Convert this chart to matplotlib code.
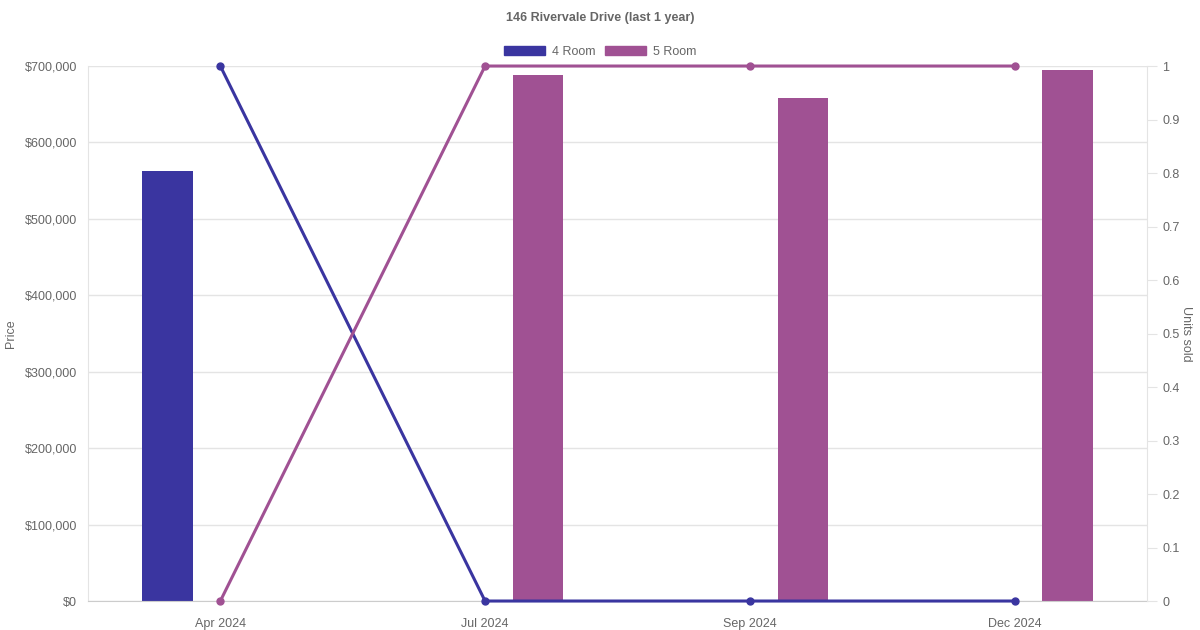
import matplotlib.pyplot as plt
import matplotlib.ticker as mticker
from matplotlib.patches import Patch
import numpy as np

months = ["Apr 2024", "Jul 2024", "Sep 2024", "Dec 2024"]
price_4room = [562000, np.nan, np.nan, np.nan]
price_5room = [np.nan, 688000, 658000, 695000]
units_4room = [1, 0, 0, 0]
units_5room = [0, 1, 1, 1]

c4 = "#3a35a0"
c5 = "#a05193"
grey = "#666666"
gridc = "#e4e4e4"

plt.rcParams['font.family'] = ['Liberation Sans', 'DejaVu Sans']

fig = plt.figure(figsize=(12, 6.3), dpi=100)
ax = fig.add_axes([0.0733, 0.046, 0.8825, 0.8492])
x = np.arange(len(months))
w = 0.19
ax.bar(x - 0.2, price_4room, w, color=c4, zorder=2)
ax.bar(x + 0.2, price_5room, w, color=c5, zorder=2)
ax.set_xlim(-0.5, len(months) - 0.5)
ax.set_ylim(0, 700000)
ax.yaxis.set_major_locator(mticker.MultipleLocator(100000))
ax.yaxis.set_major_formatter(mticker.FuncFormatter(lambda v, p: "${:,.0f}".format(v)))
ax.set_xticks(x)
ax.set_xticklabels(months)
ax.grid(axis='y', color=gridc, lw=1, zorder=0)
ax.tick_params(axis='both', labelcolor=grey, labelsize=9, length=0, pad=8)
ax.tick_params(axis='x', pad=12)
for s in ['top', 'right']:
    ax.spines[s].set_visible(False)
ax.spines['left'].set_color(gridc)
ax.spines['bottom'].set_color("#cccccc")
ax.set_ylabel("Price", color=grey, fontsize=9, va='center')
ax.yaxis.set_label_coords(-0.0727, 0.5)

ax2 = ax.twinx()
ax2.plot(x, units_4room, color=c4, lw=2.2, marker='o', ms=5, zorder=3)
ax2.plot(x, units_5room, color=c5, lw=2.2, marker='o', ms=5, zorder=3)
ax2.set_ylim(0, 1)
ax2.yaxis.set_major_locator(mticker.MultipleLocator(0.1))
ax2.yaxis.set_major_formatter(mticker.FuncFormatter(lambda v, p: "{:g}".format(round(v, 1))))
ax2.tick_params(axis='y', labelcolor=grey, color=gridc, labelsize=9, length=7, pad=4)
for s in ['top', 'left', 'bottom']:
    ax2.spines[s].set_visible(False)
ax2.spines['right'].set_color(gridc)
ax2.set_ylabel("Units sold", color=grey, fontsize=9, rotation=-90, va='center')
ax2.yaxis.set_label_coords(1.0368, 0.5)
for line in ax2.lines:
    line.set_clip_on(False)

fig.text(0.5, 0.972, "146 Rivervale Drive (last 1 year)", ha='center', va='center',
         fontsize=9, fontweight='bold', color=grey)
handles = [Patch(color=c4, label="4 Room"), Patch(color=c5, label="5 Room")]
fig.legend(handles=handles, loc='center', bbox_to_anchor=(0.5, 0.918), ncol=2, frameon=False,
           fontsize=9, labelcolor=grey, handlelength=3.3, handleheight=0.8, columnspacing=0.8,
           handletextpad=0.5)

plt.savefig("out.png", dpi=100)
